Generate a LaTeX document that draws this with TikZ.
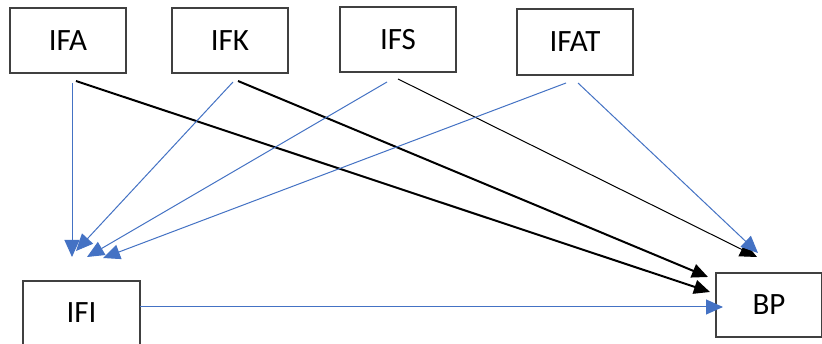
\documentclass[tikz,border=0pt]{standalone}
\usepackage{fontspec}
\setmainfont{Carlito}
\usetikzlibrary{arrows.meta}
\definecolor{linkblue}{HTML}{4472C4}
\definecolor{boxline}{HTML}{404040}
\begin{document}
\begin{tikzpicture}[x=1pt,y=-1pt,
  varbox/.style={draw=boxline,line width=1.3pt,fill=white,minimum width=116pt,minimum height=65pt,inner sep=0pt,font=\fontsize{31}{31}\selectfont},
  bluelink/.style={draw=linkblue,line width=1pt,-{Triangle[length=17pt,width=15pt]}},
  blacklink/.style={draw=black,line width=2pt,-{Triangle[length=16pt,width=14pt]}},
  thinlink/.style={draw=black,line width=1pt,-{Triangle[length=17pt,width=15pt]}}]
\useasboundingbox (0,0) rectangle (822,344);
\fill[white] (0,0) rectangle (822,344);

% variable boxes
\node[varbox] (ifa)  at (68,40.5) {IFA};
\node[varbox] (ifk)  at (230,40.5) {IFK};
\node[varbox] (ifs)  at (398,39.5) {IFS};
\node[varbox,minimum height=66pt] (ifat) at (575,42) {IFAT};
\node[varbox,minimum width=117pt,minimum height=64pt] (ifi) at (81.5,313) {IFI};
\node[varbox,minimum width=106pt,minimum height=64pt] (bp) at (769,305) {BP};

% start and end points of the paths
\coordinate (ifa-b)  at (72,83);
\coordinate (ifa-k)  at (76,81);
\coordinate (ifk-b)  at (233,82);
\coordinate (ifk-k)  at (238,81);
\coordinate (ifs-b)  at (387,82);
\coordinate (ifs-k)  at (398,79);
\coordinate (ifat-i) at (566,83);
\coordinate (ifat-p) at (578,83);
\coordinate (ifi-r)  at (140,307);

\coordinate (ifi-a)  at (72,257);
\coordinate (ifi-k)  at (76,251);
\coordinate (ifi-s)  at (87,257);
\coordinate (ifi-t)  at (103,258);
\coordinate (bp-a)   at (710,292);
\coordinate (bp-k)   at (708,277);
\coordinate (bp-s)   at (757,257);
\coordinate (bp-t)   at (758,253);
\coordinate (bp-i)   at (723,307);

% paths into BP
\draw[blacklink] (ifa-k) -- (bp-a);
\draw[blacklink] (ifk-k) -- (bp-k);
\draw[thinlink]  (ifs-k) -- (bp-s);
\draw[bluelink]  (ifat-p) -- (bp-t);
\draw[bluelink]  (ifi-r) -- (bp-i);

% paths into IFI
\draw[bluelink] (ifa-b) -- (ifi-a);
\draw[bluelink] (ifk-b) -- (ifi-k);
\draw[bluelink] (ifs-b) -- (ifi-s);
\draw[bluelink] (ifat-i) -- (ifi-t);
\end{tikzpicture}
\end{document}
